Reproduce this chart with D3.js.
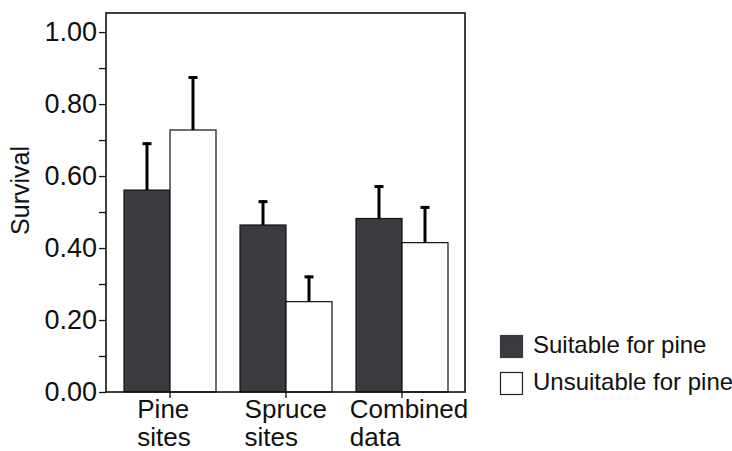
<!DOCTYPE html>
<html>
<head>
<meta charset="utf-8">
<script src="https://cdn.jsdelivr.net/npm/d3@7"></script>
<style>
  html, body { margin: 0; padding: 0; background: #fff; }
  svg { display: block; font-family: "Liberation Sans", Arial, Helvetica, sans-serif; }
</style>
</head>
<body>
<svg id="chart" width="732" height="451"></svg>
<script>
// ---- data ----
const categories = ["Pine sites", "Spruce sites", "Combined data"];
const categoryLines = [["Pine", "sites"], ["Spruce", "sites"], ["Combined", "data"]];
const seriesNames = ["Suitable for pine", "Unsuitable for pine"];
const suitableMean = [0.561, 0.464, 0.482];
const suitableSE = [0.133, 0.069, 0.093];
const unsuitableMean = [0.728, 0.251, 0.415];
const unsuitableSE = [0.150, 0.073, 0.102];
const yMajorTicks = [0, 0.2, 0.4, 0.6, 0.8, 1.0];
const yMinorTicks = [0.1, 0.3, 0.5, 0.7, 0.9];
const yMax = 1.053;
const seriesColors = ["#3a3b3f", "#ffffff"];

// ---- layout ----
const svg = d3.select("#chart");
const plot = { left: 106, right: 465, top: 13, bottom: 392 };

const y = d3.scaleLinear().domain([0, yMax]).range([plot.bottom, plot.top]);
const x = d3.scaleBand().domain(categories).range([124, 448]).paddingInner(24 / 116).paddingOuter(0);
const xs = d3.scaleBand().domain(seriesNames).range([0, x.bandwidth()]).padding(0);

const series = [
  { name: seriesNames[0], mean: suitableMean, se: suitableSE, color: seriesColors[0] },
  { name: seriesNames[1], mean: unsuitableMean, se: unsuitableSE, color: seriesColors[1] }
];

// bars
series.forEach(s => {
  const g = svg.append("g");
  categories.forEach((c, i) => {
    const x0 = x(c) + xs(s.name);
    g.append("rect")
      .attr("x", x0)
      .attr("y", y(s.mean[i]))
      .attr("width", xs.bandwidth())
      .attr("height", y(0) - y(s.mean[i]))
      .attr("fill", s.color)
      .attr("stroke", "#111")
      .attr("stroke-width", 1.2);
    const cx = x0 + xs.bandwidth() / 2;
    const top = y(s.mean[i] + s.se[i]);
    g.append("line")
      .attr("x1", cx).attr("x2", cx)
      .attr("y1", y(s.mean[i])).attr("y2", top)
      .attr("stroke", "#000").attr("stroke-width", 3);
    g.append("line")
      .attr("x1", cx - 4.5).attr("x2", cx + 4.5)
      .attr("y1", top + 1.5).attr("y2", top + 1.5)
      .attr("stroke", "#000").attr("stroke-width", 3);
  });
});

// frame
svg.append("rect")
  .attr("x", plot.left).attr("y", plot.top)
  .attr("width", plot.right - plot.left).attr("height", plot.bottom - plot.top)
  .attr("fill", "none").attr("stroke", "#111").attr("stroke-width", 1.6);

// y axis
const yAxis = d3.axisLeft(y)
  .tickValues(yMajorTicks)
  .tickFormat(d3.format(".2f"))
  .tickSize(7)
  .tickPadding(2);
const yg = svg.append("g").attr("transform", `translate(${plot.left},0)`).call(yAxis);
yg.select(".domain").remove();
yg.selectAll(".tick line").attr("stroke", "#111").attr("stroke-width", 1.3);
yg.selectAll(".tick text")
  .attr("font-size", 27)
  .attr("fill", "#111")
  .attr("font-family", "Liberation Sans, Arial, sans-serif");

const yMinor = d3.axisLeft(y).tickValues(yMinorTicks).tickSize(7).tickFormat("");
const ymg = svg.append("g").attr("transform", `translate(${plot.left},0)`).call(yMinor);
ymg.select(".domain").remove();
ymg.selectAll(".tick line").attr("stroke", "#111").attr("stroke-width", 1.3);

// x axis ticks
const xAxis = d3.axisBottom(x).tickSize(6).tickFormat("");
const xg = svg.append("g").attr("transform", `translate(0,${plot.bottom})`).call(xAxis);
xg.select(".domain").remove();
xg.selectAll(".tick line").attr("stroke", "#111").attr("stroke-width", 1.3);

// category labels (two lines, left-aligned block)
categories.forEach((c, i) => {
  const t = svg.append("text")
    .attr("font-size", 26)
    .attr("fill", "#111");
  categoryLines[i].forEach((ln, j) => {
    t.append("tspan").attr("x", 0).attr("y", 418 + j * 28).text(ln);
  });
  const w = t.node().getBBox().width;
  const cx = x(c) + x.bandwidth() / 2;
  t.attr("transform", `translate(${cx - 16.7 - 0.3 * w},0)`);
});

// y label
svg.append("text")
  .attr("transform", `translate(29,${(y(0) + y(yMax)) / 2 - 12}) rotate(-90)`)
  .attr("text-anchor", "middle")
  .attr("font-size", 25)
  .attr("fill", "#111")
  .text("Survival");

// legend
const legend = svg.append("g").attr("transform", "translate(500,335)");
series.forEach((s, i) => {
  const g = legend.append("g").attr("transform", `translate(0,${i * 37})`);
  g.append("rect")
    .attr("x", 0.5).attr("y", 0.5)
    .attr("width", 22).attr("height", 22)
    .attr("fill", s.color)
    .attr("stroke", i === 0 ? s.color : "#222")
    .attr("stroke-width", 1.2);
  g.append("text")
    .attr("x", 33).attr("y", 18)
    .attr("font-size", 24)
    .attr("fill", "#111")
    .text(s.name);
});
</script>
</body>
</html>
